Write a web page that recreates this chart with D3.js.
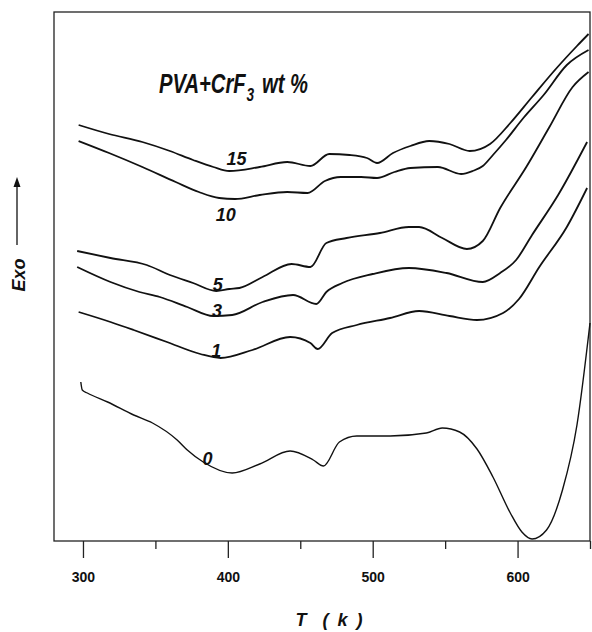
<!DOCTYPE html>
<html>
<head>
<meta charset="utf-8">
<script src="https://cdn.jsdelivr.net/npm/d3@7"></script>
<style>
  body { margin: 0; background: #fff; }
  svg { display: block; font-family: "Liberation Sans", Arial, sans-serif; }
</style>
</head>
<body>
<div id="chart"></div>
<script>
// DSC traces, T in K, heat flow in arbitrary units (exo up)
const t0  = [298.5, 299.5, 303, 317, 335, 348, 365, 372, 383, 403, 422, 443, 459, 466, 477, 489, 512, 537, 548, 560, 572, 583, 595, 603, 610, 620, 631, 641, 650];
const e0  = [159, 151, 148, 139, 126, 118, 101, 91, 79, 68, 77, 90, 81, 75, 99, 105, 105, 108, 113, 109, 92, 64, 28, 9, 2, 11, 51, 116, 218];

const t1  = [297, 319, 335, 358, 381, 395, 417, 443, 457, 462, 472, 489, 512, 532, 553, 572, 590, 601, 615, 634, 648];
const e1  = [229, 219, 211, 199, 187, 183, 191, 204, 198, 192, 208, 216, 223, 230, 225, 221, 228, 242, 274, 314, 353];

const t3  = [296, 319, 339, 353, 372, 390, 403, 424, 445, 461, 468, 479, 500, 525, 551, 576, 588, 599, 610, 628, 648];
const e3  = [274, 259, 249, 244, 234, 225, 226, 239, 246, 237, 249, 258, 267, 273, 268, 259, 268, 281, 306, 346, 399];

const t5  = [296, 319, 344, 360, 376, 392, 401, 408, 424, 444, 457, 468, 482, 505, 525, 532, 548, 565, 576, 588, 606, 622, 638, 649];
const e5  = [290, 283, 276, 266, 258, 250, 252, 253, 264, 277, 274, 298, 303, 308, 314, 314, 303, 292, 300, 333, 374, 414, 454, 469];

const t10 = [297, 318, 341, 364, 380, 394, 405, 422, 441, 455, 467, 478, 492, 503, 515, 526, 545, 561, 569, 576, 583, 592, 604, 618, 634, 649];
const e10 = [400, 388, 374, 359, 349, 343, 342, 346, 349, 348, 360, 364, 364, 363, 369, 373, 374, 367, 370, 375, 386, 401, 423, 446, 476, 491];

const t15 = [297, 318, 341, 360, 376, 390, 401, 422, 441, 457, 470, 484, 496, 503, 514, 526, 539, 553, 567, 581, 595, 610, 627, 641, 649];
const e15 = [416, 407, 399, 390, 381, 374, 370, 374, 379, 375, 387, 386, 383, 378, 388, 395, 400, 397, 390, 397, 418, 444, 473, 495, 507];

const seriesNames = ["0", "1", "3", "5", "10", "15"];
const seriesT = [t0, t1, t3, t5, t10, t15];
const seriesE = [e0, e1, e3, e5, e10, e15];

const majorTicks = [300, 400, 500, 600];
const minorTicks = [350, 450, 550, 650];

// where each wt% label sits (T, a.u.)
const labelT = [386, 392, 392.5, 393, 398.5, 406];
const labelE = [76, 184, 224, 250, 320, 376];

const W = 592, H = 632;
const svg = d3.select("#chart").append("svg")
    .attr("width", W).attr("height", H);

const x = d3.scaleLinear().domain([280, 650]).range([54, 590]);
const y = d3.scaleLinear().domain([0, 529]).range([541, 12]);

// frame
svg.append("rect")
    .attr("x", x(280)).attr("y", y(529))
    .attr("width", x(650) - x(280)).attr("height", y(0) - y(529))
    .attr("fill", "none").attr("stroke", "#222").attr("stroke-width", 1.3);

// x axis, major + minor ticks
const xAxis = d3.axisBottom(x).tickValues(majorTicks).tickSize(17).tickPadding(14)
    .tickFormat(d3.format("d"));
const gx = svg.append("g").attr("transform", "translate(0," + y(0) + ")").call(xAxis);
gx.select(".domain").remove();
gx.selectAll(".tick line").attr("stroke", "#222").attr("stroke-width", 1.3);
gx.selectAll(".tick text")
    .attr("fill", "#111")
    .style("font-size", "14px").style("font-weight", "bold");

const gm = svg.append("g").attr("transform", "translate(0," + y(0) + ")")
    .call(d3.axisBottom(x).tickValues(minorTicks).tickSize(8).tickFormat(""));
gm.select(".domain").remove();
gm.selectAll(".tick line").attr("stroke", "#222").attr("stroke-width", 1.3);

// curves
const line = d3.line()
    .x(d => x(d[0]))
    .y(d => y(d[1]))
    .curve(d3.curveMonotoneX);

seriesNames.forEach(function(name, i){
    const pts = seriesT[i].map((t, j) => [t, seriesE[i][j]]);
    svg.append("path")
       .datum(pts)
       .attr("d", line)
       .attr("fill", "none")
       .attr("stroke", "#111")
       .attr("stroke-width", i === 0 ? 1.4 : 1.8)
       .attr("stroke-linejoin", "round");

    svg.append("text")
       .attr("x", x(labelT[i]))
       .attr("y", y(labelE[i]))
       .attr("text-anchor", "middle")
       .style("font-size", "18px")
       .style("font-weight", "bold")
       .style("font-style", "italic")
       .attr("fill", "#111")
       .text(name);
});

// title, squeezed horizontally like the narrow face in the original
const tg = svg.append("g");
function titlePart(txt, size, dy){
    return tg.append("text")
        .attr("y", dy)
        .style("font-size", size + "px").style("font-weight", "bold").style("font-style", "italic")
        .attr("fill", "#111")
        .text(txt);
}
const p1 = titlePart("PVA+CrF", 28, 0);
const w1 = p1.node().getComputedTextLength();
const p2 = titlePart("3", 19, 8).attr("x", w1 + 1);
const w2 = p2.node().getComputedTextLength();
const p3 = titlePart("wt %", 28, 0).attr("x", w1 + w2 + 12);
const wAll = w1 + w2 + 12 + p3.node().getComputedTextLength();
tg.attr("transform", "translate(159,93) scale(" + (149 / wAll) + ",1)");

// x label
svg.append("text")
    .attr("x", 330).attr("y", 626)
    .attr("text-anchor", "middle")
    .style("font-size", "18px").style("font-weight", "bold").style("font-style", "italic")
    .style("letter-spacing", "2px")
    .attr("fill", "#111")
    .attr("xml:space", "preserve")
    .text("T  ( k )");

// y label + arrow
svg.append("text")
    .attr("transform", "translate(25,275) rotate(-90)")
    .attr("text-anchor", "middle")
    .style("font-size", "18px").style("font-weight", "bold").style("font-style", "italic")
    .attr("fill", "#111")
    .text("Exo");
svg.append("line")
    .attr("x1", 17).attr("x2", 17).attr("y1", 245).attr("y2", 184)
    .attr("stroke", "#111").attr("stroke-width", 1.3);
svg.append("path")
    .attr("d", "M17,177 L13.5,187 L20.5,187 Z")
    .attr("fill", "#111");
</script>
</body>
</html>
